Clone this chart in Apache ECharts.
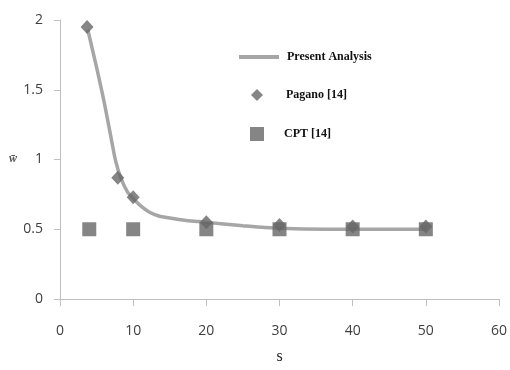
<!DOCTYPE html>
<html>
<head>
<meta charset="utf-8">
<script src="https://cdn.jsdelivr.net/npm/echarts@6/dist/echarts.min.js"></script>
<style>html,body{margin:0;padding:0;background:#fff}#c{width:510px;height:370px}</style>
</head>
<body>
<div id="c"></div>
<script>
// Present Analysis curve (s, w̄)
const curveS = [3.8, 5, 6, 7, 7.6, 8.3, 9.2, 10.2, 11.2, 12.3, 13.5, 15, 17, 19, 22, 25, 28, 32, 38, 50];
const curveW = [1.93, 1.66, 1.42, 1.15, 0.99, 0.87, 0.77, 0.71, 0.66, 0.62, 0.595, 0.58, 0.565, 0.555, 0.54, 0.525, 0.512, 0.503, 0.5, 0.5];
// Pagano [14]
const paganoS = [3.7, 7.9, 10, 20, 30, 40, 50];
const paganoW = [1.95, 0.87, 0.73, 0.55, 0.53, 0.52, 0.52];
// CPT [14]
const cptS = [4, 10, 20, 30, 40, 50];
const cptW = [0.5, 0.5, 0.5, 0.5, 0.5, 0.5];
// axis ticks
const xTicks = [0, 10, 20, 30, 40, 50, 60];
const yTicks = [0, 0.5, 1, 1.5, 2];

const zip = (a, b) => a.map((v, i) => [v, b[i]]);
const chart = echarts.init(document.getElementById('c'));
const labelFont = {color: '#404040', fontSize: 14, fontFamily: 'Open Sans'};
const legendText = {fontFamily: 'Liberation Serif', fontWeight: 'bold', fontSize: 12, color: '#111'};
chart.setOption({
  animation: false,
  backgroundColor: '#fff',
  grid: {left: 60, right: 11, top: 20, bottom: 64},
  xAxis: {
    type: 'value', min: xTicks[0], max: xTicks[xTicks.length - 1], interval: 10,
    axisLine: {lineStyle: {color: '#bfbfbf'}},
    axisTick: {show: true, length: 7, lineStyle: {color: '#bfbfbf'}},
    splitLine: {show: false},
    axisLabel: Object.assign({margin: 25}, labelFont),
    name: 's', nameLocation: 'middle', nameGap: 50,
    nameTextStyle: {fontFamily: 'Liberation Serif', fontSize: 16, color: '#202020'}
  },
  yAxis: {
    type: 'value', min: yTicks[0], max: yTicks[yTicks.length - 1], interval: 0.5,
    axisLine: {show: true, lineStyle: {color: '#bfbfbf'}},
    axisTick: {show: true, length: 6, lineStyle: {color: '#bfbfbf'}},
    splitLine: {show: false},
    axisLabel: Object.assign({margin: 17}, labelFont)
  },
  graphic: [{
    type: 'text', left: 9, top: 153,
    style: {text: 'w̄', font: 'italic bold 12px "Liberation Serif"', fill: '#555'}
  }],
  legend: [
    {
      left: 234, top: 46, itemWidth: 40, itemHeight: 4,
      textStyle: Object.assign({padding: [0, 0, 0, 3]}, legendText),
      data: [{name: 'Present Analysis', icon: 'rect', itemStyle: {color: '#a6a6a6'}}]
    },
    {
      left: 246, top: 84, itemWidth: 12, itemHeight: 12,
      textStyle: Object.assign({padding: [0, 0, 0, 18]}, legendText),
      data: [{name: 'Pagano [14]', icon: 'diamond'}]
    },
    {
      left: 245, top: 122, itemWidth: 14, itemHeight: 14,
      textStyle: Object.assign({padding: [0, 0, 0, 15]}, legendText),
      data: [{name: 'CPT [14]', icon: 'rect'}]
    }
  ],
  series: [
    {
      name: 'Present Analysis', type: 'line', smooth: 0.3, showSymbol: false,
      data: zip(curveS, curveW),
      lineStyle: {color: '#a6a6a6', width: 3.5}, itemStyle: {color: '#a6a6a6'}, z: 1
    },
    {
      name: 'Pagano [14]', type: 'scatter', symbol: 'diamond', symbolSize: [13, 14],
      data: zip(paganoS, paganoW), itemStyle: {color: '#666666'}, z: 2
    },
    {
      name: 'CPT [14]', type: 'scatter', symbol: 'rect', symbolSize: 14,
      data: zip(cptS, cptW), itemStyle: {color: '#666666'}, z: 3
    }
  ]
});
</script>
</body>
</html>
